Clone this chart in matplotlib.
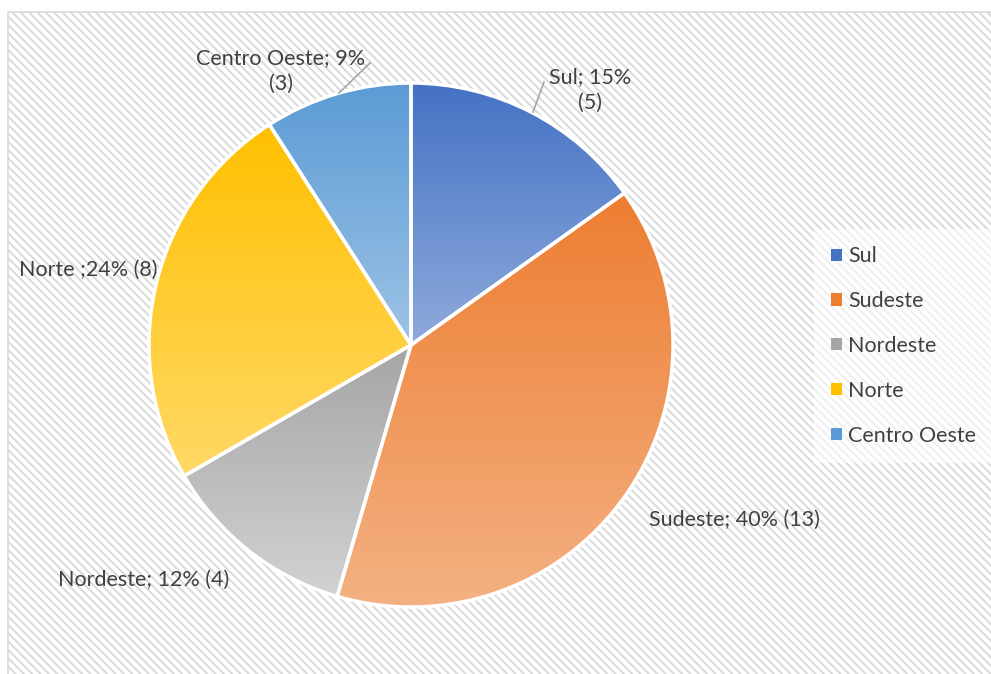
import numpy as np
import matplotlib
matplotlib.use("Agg")
import matplotlib.pyplot as plt
from matplotlib.patches import Rectangle, Patch
from matplotlib.colors import LinearSegmentedColormap

# ---- data ----
regions = ["Sul", "Sudeste", "Nordeste", "Norte", "Centro Oeste"]
counts = [5, 13, 4, 8, 3]
percents = [15, 40, 12, 24, 9]
label_texts = ["Sul; 15%\n(5)", "Sudeste; 40% (13)", "Nordeste; 12% (4)",
               "Norte ;24% (8)", "Centro Oeste; 9%\n(3)"]
top_colors = ["#4472C4", "#ED7D31", "#A5A5A5", "#FFC000", "#5B9BD5"]
bottom_colors = ["#8FAADC", "#F4B183", "#D2D2D2", "#FFD966", "#9DC3E6"]

W, H = 991, 674
plt.rcParams['font.family'] = ['Lato', 'DejaVu Sans']
plt.rcParams['hatch.color'] = '#e6e6e6'
plt.rcParams['hatch.linewidth'] = 1.4

fig = plt.figure(figsize=(W / 100, H / 100), dpi=100)
fig.patch.set_facecolor('white')

def fx(px):
    return px / W

def fy(py):
    return 1 - py / H

# background with diagonal hatching and border
bg = Rectangle((fx(8), -0.05), 1.1, fy(12) + 0.05, transform=fig.transFigure,
               facecolor='white', edgecolor='#d9d9d9', hatch='\\\\\\\\', linewidth=1.2,
               zorder=-10)
fig.patches.append(bg)

# pie axes
cx, cy, R = 411, 345, 262
ax = fig.add_axes([fx(cx - R), fy(cy + R), 2 * R / W, 2 * R / H])
ax.set_zorder(1)
ax.set_facecolor('none')
wedges, _ = ax.pie(counts, startangle=90, counterclock=False, radius=1,
                   wedgeprops=dict(edgecolor='white', linewidth=2.5))
ax.set_xlim(-1, 1)
ax.set_ylim(-1, 1)
ax.set_aspect('equal')
ax.axis('off')

for w, c0, c1 in zip(wedges, top_colors, bottom_colors):
    ext = w.get_path().get_extents()
    cmap = LinearSegmentedColormap.from_list('g', [c1, c0])
    grad = np.linspace(0, 1, 256).reshape(-1, 1)
    im = ax.imshow(grad, cmap=cmap, origin='lower', aspect='auto',
                   extent=(ext.x0, ext.x1, ext.y0, ext.y1), zorder=1)
    im.set_clip_path(w)
    w.set_facecolor('none')
    w.set_zorder(2)
ax.set_xlim(-1, 1)
ax.set_ylim(-1, 1)

# labels
txt_color = '#404040'
fs = 15.5
label_pos = [(590, 90), (734, 520), (144, 580), (88, 270), (281, 71)]
for t, (px, py) in zip(label_texts, label_pos):
    fig.text(fx(px), fy(py), t, ha='center', va='center', color=txt_color,
             fontsize=fs, linespacing=1.35, zorder=5)

# leader lines
fig.add_artist(plt.Line2D([fx(544), fx(533)], [fy(82), fy(112)],
                          color='#a6a6a6', linewidth=1.2, zorder=5))
fig.add_artist(plt.Line2D([fx(370), fx(339)], [fy(63), fy(93)],
                          color='#a6a6a6', linewidth=1.2, zorder=5))

# legend
handles = [Patch(facecolor=c, edgecolor='none') for c in top_colors]
leg = fig.legend(handles, regions, loc='center left',
                 bbox_to_anchor=(fx(814), fy(346)), frameon=True,
                 fontsize=fs, labelcolor=txt_color, handlelength=0.5,
                 handleheight=0.5, handletextpad=0.3, labelspacing=1.15,
                 borderpad=0.8, borderaxespad=0.0)
leg.set_zorder(5)
leg.get_frame().set_facecolor('white')
leg.get_frame().set_alpha(0.6)
leg.get_frame().set_edgecolor('none')

fig.savefig('out.png', dpi=100)
